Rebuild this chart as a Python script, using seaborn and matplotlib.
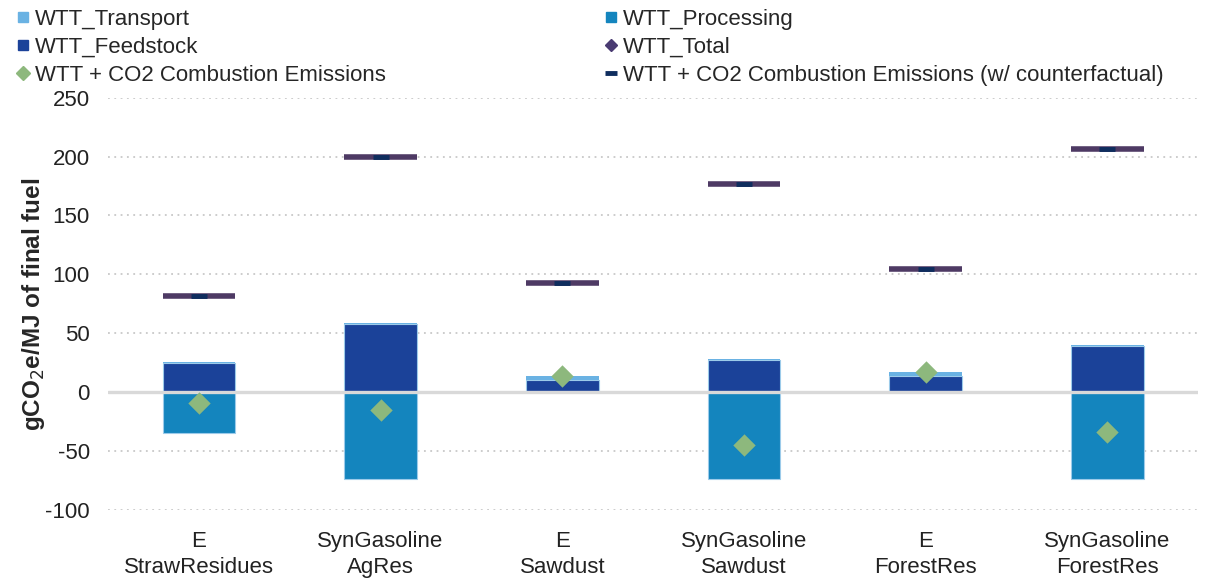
import numpy as np
import pandas as pd
import matplotlib
matplotlib.use("Agg")
import matplotlib.pyplot as plt
from matplotlib.lines import Line2D
import seaborn as sns

categories = ["E\nStrawResidues", "SynGasoline\nAgRes", "E\nSawdust",
              "SynGasoline\nSawdust", "E\nForestRes", "SynGasoline\nForestRes"]
wtt_transport = [0.8, 0.8, 2.8, 0.8, 3.4, 0.8]
wtt_feedstock = [24.5, 57.9, 10.6, 27.6, 13.4, 38.9]
wtt_processing = [-34.5, -73.6, 0.0, -73.2, 0.0, -73.3]
wtt_total = [-9.2, -14.9, 13.4, -44.8, 16.8, -33.6]
wtt_co2_comb = [-9.2, -14.9, 13.4, -44.8, 16.8, -33.6]
wtt_co2_counterfactual = [81.8, 199.9, 92.9, 177.1, 104.5, 206.5]
yticks = [-100, -50, 0, 50, 100, 150, 200, 250]

C_TRANSPORT = "#6AB2E3"
C_FEED = "#1B4299"
C_PROC = "#1485BE"
C_TOTAL = "#4A3B72"
C_COMB = "#8DB87D"
C_CF = "#0F2D5E"
C_CF_BAR = "#4E3A64"

FS = 16

sns.set_theme(style="white")
plt.rcParams["font.family"] = ["Liberation Sans", "DejaVu Sans"]

df = pd.DataFrame({
    "cat": categories,
    "x": np.arange(len(categories)),
    "transport": wtt_transport,
    "feedstock": wtt_feedstock,
    "processing": wtt_processing,
    "total": wtt_total,
    "comb": wtt_co2_comb,
    "cf": wtt_co2_counterfactual,
})

fig = plt.figure(figsize=(12.14, 5.81), dpi=100)
ax = fig.add_axes([0.089, 0.122, 0.898, 0.710])

bw = 0.4
edge = dict(edgecolor="#9CCBEA", linewidth=0.8)
sns.barplot(data=df, x="cat", y="feedstock", color=C_FEED, width=bw,
            saturation=1, ax=ax, **edge)
sns.barplot(data=df, x="cat", y="transport", bottom=df["feedstock"],
            color=C_TRANSPORT, width=bw, saturation=1, ax=ax, linewidth=0)
sns.barplot(data=df, x="cat", y="processing", color=C_PROC, width=bw,
            saturation=1, ax=ax, **edge)

# WTT total (sits under the combustion diamond)
sns.scatterplot(data=df, x="x", y="total", marker="D", s=80, color=C_TOTAL,
                linewidth=0, zorder=4, ax=ax)
sns.scatterplot(data=df, x="x", y="comb", marker="D", s=130, color=C_COMB,
                linewidth=0, zorder=5, ax=ax)

# counterfactual level: bar-wide band with a short centre dash
ax.hlines(df["cf"], df["x"] - bw / 2, df["x"] + bw / 2, color=C_CF_BAR,
          linewidth=4.0, zorder=4)
sns.scatterplot(data=df, x="x", y="cf", marker="_", s=120, color=C_CF,
                linewidth=3.5, zorder=6, ax=ax)

ax.set_xlim(-0.5, len(categories) - 0.5)
ax.set_ylim(-100, 250)
ax.set_yticks(yticks)
ax.set_yticklabels([str(v) for v in yticks], fontsize=FS, color="#222222")
ax.set_xticks(np.arange(len(categories)))
ax.set_xticklabels(categories, fontsize=FS, color="#222222", linespacing=1.3)
ax.tick_params(axis="x", length=0, pad=15)
ax.tick_params(axis="y", length=0, pad=13)

ax.yaxis.grid(True, linestyle=(0, (1, 2.5)), color="#C8C8C8", linewidth=1.3)
ax.set_axisbelow(True)
ax.axhline(0, color="#D9D9D9", linewidth=2.4, zorder=2.5)
for s in ax.spines.values():
    s.set_visible(False)

ax.set_xlabel("")
ax.set_ylabel(r"gCO$_2$e/MJ of final fuel", fontsize=17.5, fontweight="bold",
              labelpad=-1)

def sq(c):
    return Line2D([], [], marker="s", linestyle="none", color=c, markersize=7)

left_handles = [sq(C_TRANSPORT), sq(C_FEED),
                Line2D([], [], marker="D", linestyle="none", color=C_COMB, markersize=7)]
left_labels = ["WTT_Transport", "WTT_Feedstock", "WTT + CO2 Combustion Emissions"]
right_handles = [sq(C_PROC),
                 Line2D([], [], marker="D", linestyle="none", color=C_TOTAL, markersize=6),
                 Line2D([], [], marker="_", linestyle="none", color=C_CF,
                        markersize=9, markeredgewidth=3.5)]
right_labels = ["WTT_Processing", "WTT_Total",
                "WTT + CO2 Combustion Emissions (w/ counterfactual)"]

leg_kw = dict(frameon=False, fontsize=FS, handlelength=0.6, handletextpad=0.25,
              labelspacing=0.32, borderaxespad=0, borderpad=0)
leg1 = fig.legend(left_handles, left_labels, loc="upper left",
                  bbox_to_anchor=(16 / 1214, 1 - 9 / 581), **leg_kw)
leg2 = fig.legend(right_handles, right_labels, loc="upper left",
                  bbox_to_anchor=(604 / 1214, 1 - 9 / 581), **leg_kw)

fig.savefig("out.png", dpi=100, facecolor="white")
